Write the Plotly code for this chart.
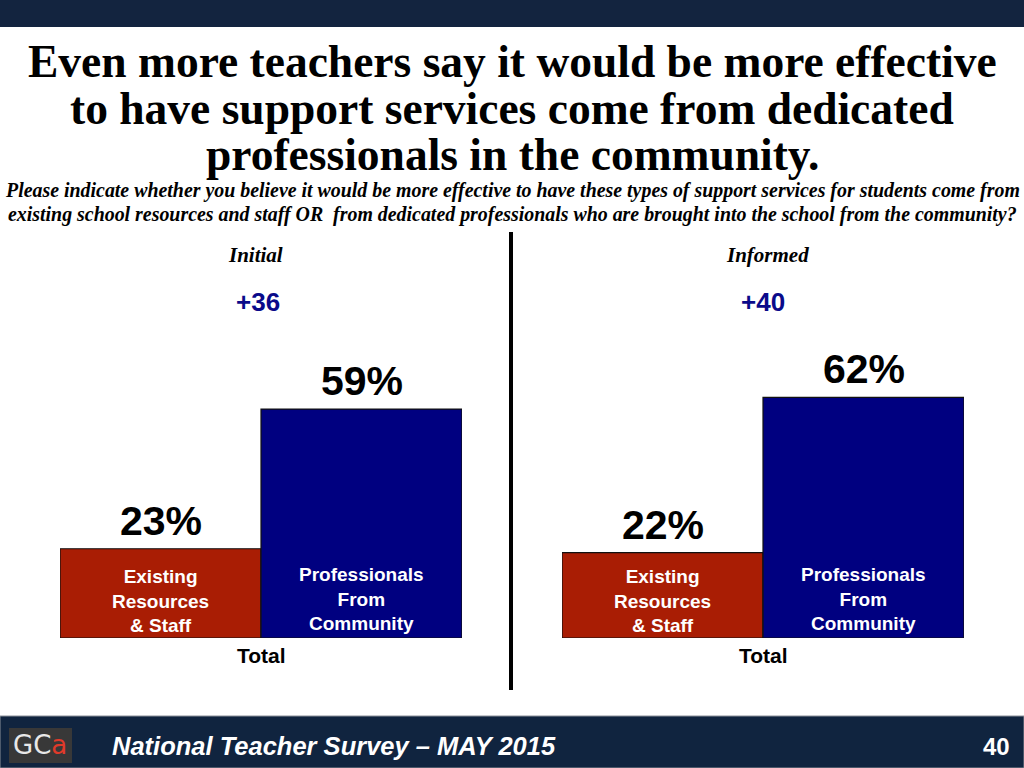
import plotly.graph_objects as go

# ---- data ----
categories = ["Existing<br>Resources<br>& Staff", "Professionals<br>From<br>Community"]
initial_values = [23, 59]
informed_values = [22, 62]
panel_titles = ["Initial", "Informed"]
panel_margins = ["+36", "+40"]
axis_label = "Total"
bar_colors = ["#A91D04", "#000080"]

title_lines = ["Even more teachers say it would be more effective",
               "to have support services come from dedicated",
               "professionals in the community."]
subtitle_lines = ["Please indicate whether you believe it would be more effective to have these types of support services for students come from",
                  "existing school resources and staff OR  from dedicated professionals who are brought into the school from the community?"]
footer_text = "National Teacher Survey \u2013 MAY 2015"
page_number = "40"

W, H = 1024, 768
y_bottom_px, y_top_px = 638, 250
yd = [(H - y_bottom_px) / H, (H - y_top_px) / H]
xdoms = [[60 / W, 462 / W], [562 / W, 964 / W]]

fig = go.Figure()
series = [initial_values, informed_values]
for i, vals in enumerate(series):
    xa = "x" if i == 0 else "x2"
    ya = "y" if i == 0 else "y2"
    fig.add_trace(go.Bar(
        x=[0, 1], y=vals, marker=dict(color=bar_colors, line=dict(color="#111111", width=1.2)),
        width=1.0, xaxis=xa, yaxis=ya, hoverinfo="skip", showlegend=False))

layout = dict(
    width=W, height=H, margin=dict(l=0, r=0, t=0, b=0),
    paper_bgcolor="white", plot_bgcolor="rgba(0,0,0,0)",
    bargap=0, showlegend=False,
)
for i in range(2):
    sfx = "" if i == 0 else "2"
    layout["xaxis" + sfx] = dict(domain=xdoms[i], range=[-0.5, 1.5], visible=False, fixedrange=True,
                                 anchor="y" + sfx)
    layout["yaxis" + sfx] = dict(domain=yd, range=[0, 100], visible=False, fixedrange=True,
                                 anchor="x" + sfx)
fig.update_layout(**layout)

ann = []
shapes = []
# header / footer bands
shapes.append(dict(type="rect", xref="paper", yref="paper", x0=0, x1=1, y0=1 - 27 / H, y1=1,
                   fillcolor="#13243F", line_width=0, layer="below"))
shapes.append(dict(type="rect", xref="paper", yref="paper", x0=0, x1=1, y0=0, y1=(H - 716) / H,
                   fillcolor="#10243F", line=dict(color="#8a8f99", width=1), layer="below"))
# logo box
shapes.append(dict(type="rect", xref="paper", yref="paper", x0=9 / W, x1=72 / W,
                   y0=(H - 763) / H, y1=(H - 728) / H, fillcolor="#383838", line_width=0))
# divider line
shapes.append(dict(type="line", xref="paper", yref="paper", x0=511 / W, x1=511 / W,
                   y0=(H - 690) / H, y1=(H - 232) / H, line=dict(color="black", width=4)))

for k, (line, ypx) in enumerate(zip(title_lines, [62, 108, 155])):
    ann.append(dict(text="<b>" + line + "</b>", xref="paper", yref="paper", x=0.5, y=(H - ypx) / H,
                    xanchor="center", yanchor="middle", showarrow=False,
                    font=dict(family="Liberation Serif", size=45.5, color="black")))
for k, (line, ypx) in enumerate(zip(subtitle_lines, [191, 215])):
    ann.append(dict(text="<b><i>" + line + "</i></b>", xref="paper", yref="paper", x=0.5,
                    y=(H - ypx) / H, xanchor="center", yanchor="middle", showarrow=False,
                    font=dict(family="Liberation Serif", size=19.9, color="black")))

for i in range(2):
    sfx = "" if i == 0 else "2"
    cx = (xdoms[i][0] + xdoms[i][1]) / 2
    ann.append(dict(text="<b><i>" + panel_titles[i] + "</i></b>", xref="paper", yref="paper",
                    x=(255 + 512 * i) / W, y=(H - 255) / H, xanchor="center", yanchor="middle",
                    showarrow=False, font=dict(family="Liberation Serif", size=21, color="black")))
    ann.append(dict(text="<b>" + panel_margins[i] + "</b>", xref="paper", yref="paper",
                    x=(258 + 505 * i) / W, y=(H - 302) / H, xanchor="center", yanchor="middle",
                    showarrow=False, font=dict(family="Liberation Sans", size=26, color="#0A0A8A")))
    ann.append(dict(text="<b>" + axis_label + "</b>", xref="paper", yref="paper",
                    x=cx, y=(H - 655) / H, xanchor="center", yanchor="middle",
                    showarrow=False, font=dict(family="Liberation Sans", size=21, color="black")))
    for j, v in enumerate(series[i]):
        ann.append(dict(text="<b>%d%%</b>" % v, x=j, y=v, xref="x" + sfx, yref="y" + sfx,
                        xanchor="center", yanchor="bottom", yshift=3, showarrow=False,
                        font=dict(family="Liberation Sans", size=41, color="black")))
        ann.append(dict(text="<b>" + categories[j] + "</b>", x=j, y=0, xref="x" + sfx, yref="y" + sfx,
                        xanchor="center", yanchor="bottom", yshift=2 if j == 1 else 0, showarrow=False,
                        font=dict(family="Liberation Sans", size=19, color="white")))

ann.append(dict(text="<b><i>" + footer_text + "</i></b>", xref="paper", yref="paper",
                x=110 / W, y=(H - 746) / H, xanchor="left", yanchor="middle", showarrow=False,
                font=dict(family="Liberation Sans", size=25.5, color="white")))
ann.append(dict(text="<b>" + page_number + "</b>", xref="paper", yref="paper",
                x=1012 / W, y=(H - 746) / H, xanchor="right", yanchor="middle", showarrow=False,
                font=dict(family="Liberation Sans", size=24, color="white")))
ann.append(dict(text="<span style='color:#e8e8e8'>GC</span><span style='color:#e03a2a'>a</span>",
                xref="paper", yref="paper", x=40 / W, y=(H - 745) / H, xanchor="center",
                yanchor="middle", showarrow=False,
                font=dict(family="DejaVu Sans", size=26, color="white")))

fig.update_layout(annotations=ann, shapes=shapes)
fig.write_html("out.html", config={"displayModeBar": False, "staticPlot": True},
               post_script="document.body.style.margin='0';")
